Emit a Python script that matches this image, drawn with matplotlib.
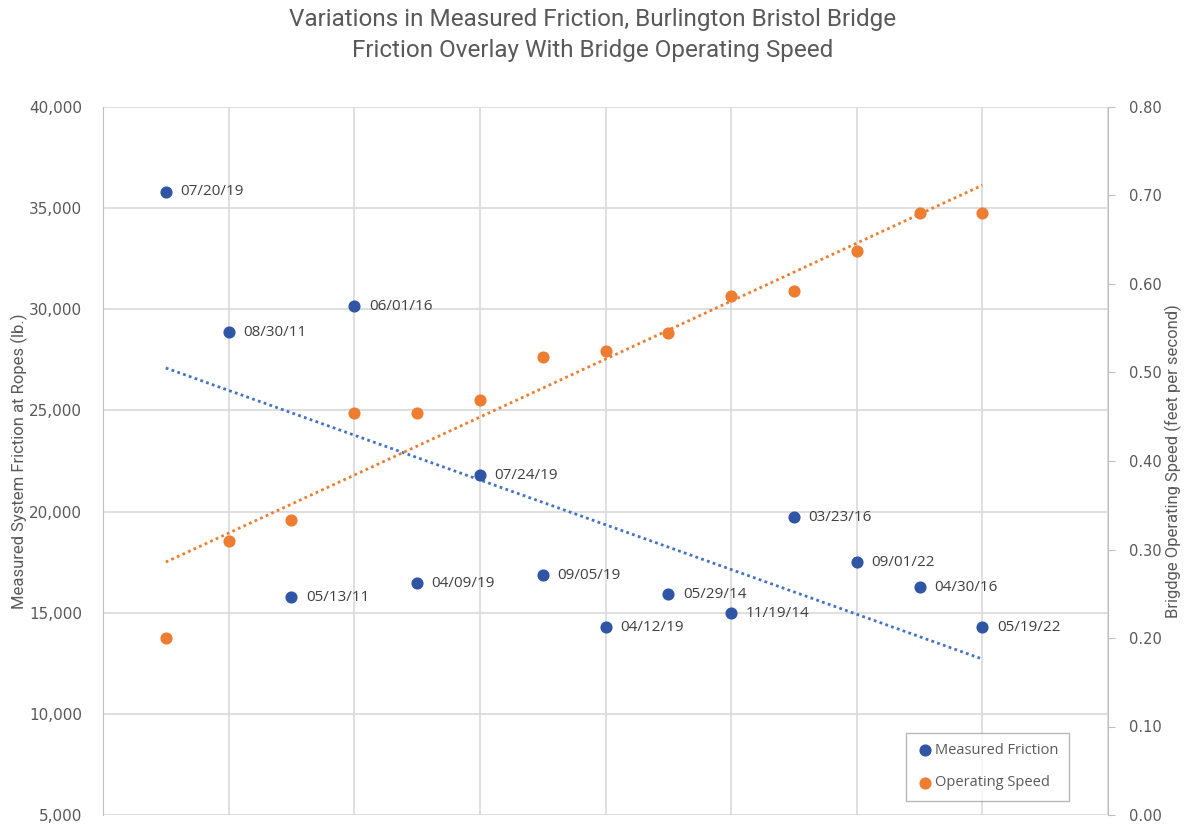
import numpy as np
import matplotlib.pyplot as plt
from matplotlib.ticker import FuncFormatter, MultipleLocator

# data
pos = [1, 2, 3, 4, 5, 6, 7, 8, 9, 10, 11, 12, 13, 14]
dates = ['07/20/19', '08/30/11', '05/13/11', '06/01/16', '04/09/19', '07/24/19', '09/05/19',
         '04/12/19', '05/29/14', '11/19/14', '03/23/16', '09/01/22', '04/30/16', '05/19/22']
friction = [35800, 28870, 15770, 30160, 16460, 21800, 16850,
            14280, 15920, 14980, 19720, 17500, 16260, 14280]
speed = [0.200, 0.310, 0.333, 0.454, 0.454, 0.469, 0.518,
         0.524, 0.545, 0.586, 0.592, 0.637, 0.680, 0.680]

blue = '#2F55A4'
orange = '#ED7D31'
grid_c = '#D9D9D9'
txt = '#595959'
narrow = ['Roboto', 'DejaVu Sans']

plt.rcParams['font.family'] = ['Open Sans', 'DejaVu Sans']

fig = plt.figure(figsize=(11.85, 8.25), dpi=100)
ax = fig.add_axes([103 / 1185, 10 / 825, 1005 / 1185, 708 / 825])
ax2 = ax.twinx()

ax.set_xlim(0, 16)
ax.set_ylim(5000, 40000)
ax2.set_ylim(0, 0.8)

ax.xaxis.set_major_locator(MultipleLocator(2))
ax.set_xticklabels([])
ax.tick_params(axis='x', length=0)
ax.grid(True, color=grid_c, linewidth=1.2)
ax.set_axisbelow(True)

ax.yaxis.set_major_locator(MultipleLocator(5000))
ax.yaxis.set_major_formatter(FuncFormatter(lambda v, p: f'{int(v):,}'))
ax2.yaxis.set_major_locator(MultipleLocator(0.1))
ax2.yaxis.set_major_formatter(FuncFormatter(lambda v, p: f'{v:.2f}'))

for a in (ax, ax2):
    for s in a.spines.values():
        s.set_visible(False)
ax.spines['left'].set_visible(True)
ax.spines['left'].set_color('#BFBFBF')
ax2.spines['right'].set_visible(True)
ax2.spines['right'].set_color('#BFBFBF')
ax.tick_params(axis='y', length=0, pad=15, labelsize=11, labelcolor=txt, labelfontfamily='DejaVu Sans')
ax2.tick_params(axis='y', length=5, color='#BFBFBF', pad=10, labelsize=10.5, labelcolor=txt,
                labelfontfamily='DejaVu Sans')

# trendlines (linear fit)
x = np.array(pos, dtype=float)
kf = np.polyfit(x, friction, 1)
ks = np.polyfit(x, speed, 1)
ax.plot([x[0], x[-1]], np.polyval(kf, [x[0], x[-1]]), linestyle=(0, (1, 1.2)), color='#4472C4', linewidth=2, zorder=2)
ax2.plot([x[0], x[-1]], np.polyval(ks, [x[0], x[-1]]), linestyle=(0, (1, 1.2)), color=orange, linewidth=2, zorder=2)

h1 = ax.scatter(pos, friction, s=60, color=blue, zorder=4, label='Measured Friction')
h2 = ax2.scatter(pos, speed, s=60, color=orange, zorder=4, label='Operating Speed')

for xi, yi, d in zip(pos, friction, dates):
    ax.annotate(d, (xi, yi), xytext=(10.5, 0), textcoords='offset points', va='center', ha='left',
                fontsize=11, color='#404040')

ax.set_ylabel('Measured System Friction at Ropes (lb.)', fontsize=12, color=txt, family=narrow)
ax.yaxis.set_label_coords(-75 / 1005, 0.5)
ax2.set_ylabel('Brigdge Operating Speed (feet per second)', fontsize=12, color=txt, family=narrow)
ax2.yaxis.set_label_coords(1 + 57 / 1005, 0.5)

fig.suptitle('Variations in Measured Friction, Burlington Bristol Bridge\nFriction Overlay With Bridge Operating Speed',
             y=0.99, fontsize=17.5, color=txt, linespacing=1.45, family=narrow)

leg = ax2.legend(handles=[h1, h2], loc='lower right', bbox_to_anchor=(0.968, 0.010), fontsize=10.5,
                 frameon=True, fancybox=False, edgecolor='#A6A6A6', handletextpad=0.1,
                 borderpad=0.7, labelspacing=1.2, handlelength=1.2)
leg.get_frame().set_linewidth(1)
for t in leg.get_texts():
    t.set_color(txt)

fig.savefig('out.png', dpi=100)
